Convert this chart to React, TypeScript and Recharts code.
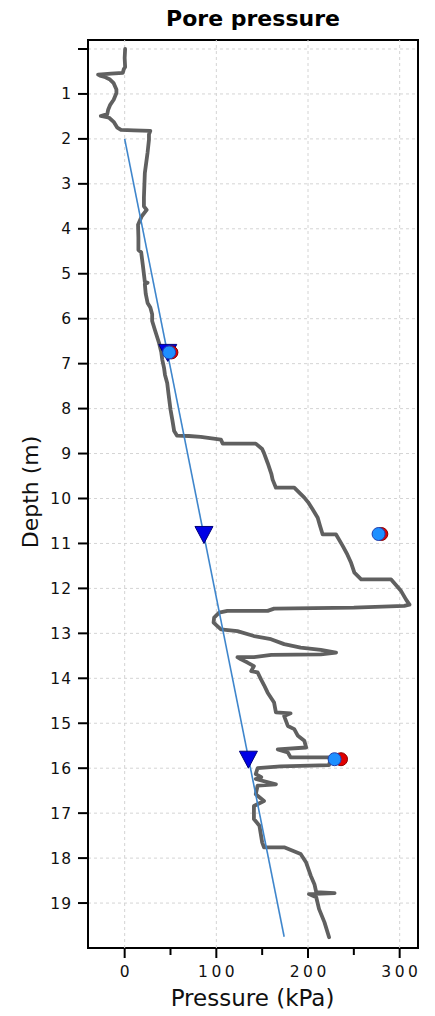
import React from 'react';
import {
  ComposedChart,
  Scatter,
  XAxis,
  YAxis,
  CartesianGrid,
  ReferenceLine,
  ReferenceArea,
} from 'recharts';

// [pressure (kPa), depth (m)]
const profile: [number, number][] = [
  [0.5, 0.0], [0, 0.2], [0.5, 0.4], [-1, 0.45], [-2, 0.53], [-15, 0.55], [-29, 0.57],
  [-26, 0.6], [-22, 0.62], [-16, 0.68], [-12, 0.76], [-9, 0.9], [-9, 0.98], [-12, 1.13],
  [-16, 1.25], [-18, 1.35], [-19, 1.45], [-26, 1.49], [-17, 1.53], [-12, 1.62], [-8, 1.75],
  [-4, 1.8], [10, 1.81], [28, 1.82], [26.5, 1.9], [26.5, 2.02], [25, 2.3], [22, 2.76],
  [21, 3.3], [21, 3.5], [24, 3.58], [18.6, 3.72], [14.6, 3.91], [15, 4.2], [15, 4.47],
  [18, 4.52], [20, 4.84], [22, 5.18], [25, 5.2], [22, 5.23], [23, 5.45], [25, 5.65],
  [28, 5.75], [30, 5.9], [30, 6.05], [33, 6.25], [37.5, 6.54], [40, 6.75], [41, 6.91],
  [43, 7.1], [44, 7.25], [46.4, 7.43], [48, 7.7], [50, 8.02], [52, 8.25], [54, 8.5],
  [57, 8.6], [70, 8.61], [83, 8.63], [105, 8.69], [107, 8.78], [143, 8.78], [150, 8.9],
  [152, 8.99], [156, 9.21], [160, 9.45], [161.4, 9.58], [165, 9.76], [185, 9.76],
  [196, 9.98], [200, 10.08], [205, 10.24], [210.6, 10.43], [213, 10.6], [216, 10.8],
  [230.6, 10.8], [238, 11.06], [243, 11.25], [247, 11.43], [250.6, 11.65], [258, 11.8],
  [290.7, 11.8], [301.6, 12.06], [307, 12.25], [310.7, 12.36], [305, 12.39], [250, 12.43],
  [163, 12.45], [156, 12.5], [112, 12.5], [103, 12.54], [97.6, 12.65], [97, 12.76],
  [105, 12.91], [123, 12.95], [141, 13.06], [159.6, 13.13], [174, 13.24], [192, 13.32],
  [214, 13.37], [230.6, 13.43], [214, 13.47], [160, 13.48], [141, 13.53], [123, 13.53],
  [127, 13.58], [134, 13.65], [141, 13.73], [138, 13.84], [145, 13.87], [148.6, 14.02],
  [152, 14.15], [156, 14.32], [163, 14.54], [165, 14.76], [181, 14.78], [174, 14.84],
  [178, 15.06], [185, 15.13], [189, 15.28], [196, 15.39], [198, 15.54], [167, 15.58],
  [178, 15.65], [181, 15.76], [225, 15.76], [223, 15.93], [170, 15.96], [145, 16.0],
  [143, 16.13], [149, 16.2], [143, 16.24], [165, 16.36], [145, 16.39], [143, 16.58],
  [152, 16.73], [141, 16.84], [141, 17.13], [147, 17.28], [150, 17.65], [152, 17.76],
  [174, 17.76], [192, 17.91], [198, 18.1], [203, 18.39], [207, 18.58], [209, 18.76],
  [229, 18.78], [201, 18.8], [209, 18.87], [212, 19.13], [218, 19.43], [223, 19.76],
];

const hydrostatic: [number, number][] = [[0, 2], [174, 19.75]];
const triangles: [number, number][] = [[47, 6.75], [86.5, 10.8], [135, 15.8]];
const redPoints: [number, number][] = [[51, 6.75], [280, 10.79], [236, 15.8]];
const bluePoints: [number, number][] = [[48.5, 6.75], [277, 10.79], [229, 15.8]];

const xTicks = [0, 50, 100, 150, 200, 250, 300];
const xGridLines = [0, 100, 200, 300];
const yTicks = [0, 1, 2, 3, 4, 5, 6, 7, 8, 9, 10, 11, 12, 13, 14, 15, 16, 17, 18, 19];

const FONT = '"DejaVu Sans", Verdana, sans-serif';

const rows = (a: [number, number][]) => a.map(([p, d]) => ({ p, d }));

const Empty = () => <g />;

const XTick = (props: any) => {
  const { x, y, payload } = props;
  const v = payload.value;
  const major = v % 100 === 0;
  return (
    <g>
      <line x1={x} x2={x} y1={y} y2={y + (major ? 10 : 7)} stroke="#000" strokeWidth={2} />
      {major && (
        <text x={x + 1.75} y={y + 29} textAnchor="middle" fontSize={15.5} letterSpacing={3.5}
          fontFamily={FONT} fill="#111">
          {v}
        </text>
      )}
    </g>
  );
};

const YTick = (props: any) => {
  const { x, y, payload } = props;
  const v = payload.value;
  return (
    <g>
      <line x1={x - 10} x2={x} y1={y} y2={y} stroke="#000" strokeWidth={2} />
      {v !== 0 && (
        <text x={x - 16} y={y + 5.5} textAnchor="end" fontSize={15.5} letterSpacing={1}
          fontFamily={FONT} fill="#111">
          {v}
        </text>
      )}
    </g>
  );
};

const Triangle = (props: any) => {
  const { cx, cy } = props;
  return (
    <polygon
      points={`${cx - 9},${cy - 8} ${cx + 9},${cy - 8} ${cx},${cy + 9}`}
      fill="#0000e6"
      stroke="#00007a"
      strokeWidth={1}
    />
  );
};

const RedDot = (props: any) => (
  <circle cx={props.cx} cy={props.cy} r={6.5} fill="#e00000" stroke="#8b0000" strokeWidth={1} />
);
const BlueDot = (props: any) => (
  <circle cx={props.cx} cy={props.cy} r={6.5} fill="#1e8fff" stroke="#2040b0" strokeWidth={1} />
);

const W = 435;
const H = 1016;

export default function App() {
  return (
    <div style={{ position: 'absolute', left: 0, top: 0, width: W, height: H }}>
      <ComposedChart
        width={W}
        height={H}
        margin={{ top: 40, right: 17, bottom: 0, left: 0 }}
      >
        <CartesianGrid vertical={false} stroke="#d4d4d4" strokeDasharray="3 3" />
        {xGridLines.map((v) => (
          <ReferenceLine key={v} x={v} stroke="#d4d4d4" strokeDasharray="3 3" />
        ))}
        <XAxis
          type="number"
          dataKey="p"
          domain={[-40, 320]}
          ticks={xTicks}
          allowDataOverflow
          axisLine={false}
          tickLine={false}
          tickSize={0}
          tickMargin={0}
          height={68}
          tick={<XTick />}
          interval={0}
        />
        <YAxis
          type="number"
          dataKey="d"
          domain={[-0.2, 20]}
          ticks={yTicks}
          reversed
          allowDataOverflow
          axisLine={false}
          tickLine={false}
          tickSize={0}
          tickMargin={0}
          width={88}
          tick={<YTick />}
          interval={0}
        />
        <Scatter
          data={rows(profile)}
          line={{ stroke: '#606060', strokeWidth: 3.8, strokeLinejoin: 'round', strokeLinecap: 'round' }}
          lineType="joint"
          shape={<Empty />}
          isAnimationActive={false}
        />
        <Scatter
          data={rows(hydrostatic)}
          line={{ stroke: '#3f86cc', strokeWidth: 1.6 }}
          lineType="joint"
          shape={<Empty />}
          isAnimationActive={false}
        />
        <Scatter data={rows(triangles)} shape={<Triangle />} isAnimationActive={false} />
        <Scatter data={rows(redPoints)} shape={<RedDot />} isAnimationActive={false} />
        <Scatter data={rows(bluePoints)} shape={<BlueDot />} isAnimationActive={false} />
        <ReferenceArea x1={-40} x2={320} y1={-0.2} y2={20} fill="none" stroke="#000" strokeWidth={2} />
      </ComposedChart>
      <svg
        width={W}
        height={H}
        style={{ position: 'absolute', left: 0, top: 0, pointerEvents: 'none', overflow: 'visible' }}
      >
        <text x={253} y={26} textAnchor="middle" fontSize={22} fontWeight="bold" fontFamily={FONT} fill="#000">
          Pore pressure
        </text>
        <text x={252.5} y={1006} textAnchor="middle" fontSize={23} fontFamily={FONT} fill="#111">
          Pressure (kPa)
        </text>
        <text x={38} y={492} textAnchor="middle" fontSize={22} fontFamily={FONT} fill="#111"
          transform="rotate(-90 38 492)">
          Depth (m)
        </text>
      </svg>
    </div>
  );
}
